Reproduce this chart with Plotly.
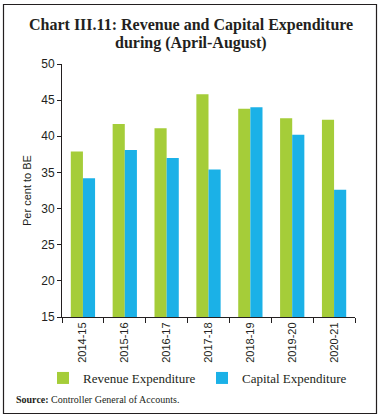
import plotly.graph_objects as go

years = ["2014-15", "2015-16", "2016-17", "2017-18", "2018-19", "2019-20", "2020-21"]
revenue_exp = [37.9, 41.7, 41.1, 45.8, 43.8, 42.5, 42.3]
capital_exp = [34.2, 38.1, 37.0, 35.4, 44.0, 40.2, 32.6]
y_ticks = [15, 20, 25, 30, 35, 40, 45, 50]

GREEN = "#A5CD39"
BLUE = "#1BB1E7"
INK = "#231F20"

fig = go.Figure()
fig.add_trace(go.Bar(x=years, y=revenue_exp, name="Revenue Expenditure", legend="legend",
                     marker=dict(color=GREEN, line=dict(width=0))))
fig.add_trace(go.Bar(x=years, y=capital_exp, name="Capital Expenditure", legend="legend2",
                     marker=dict(color=BLUE, line=dict(width=0))))

W, H = 381, 418
L, R, T, B = 62, 26, 64, 101
pw, ph = W - L - R, H - T - B

def px(xp):
    return (xp - L) / pw

def py(yp):
    return (H - B - yp) / ph

legend_font = dict(family="Liberation Serif", size=13, color=INK)

def legend_at(xpix):
    return dict(orientation="h", xref="container", yref="container",
                x=xpix / W, y=1 - 378 / H, xanchor="left", yanchor="middle",
                bgcolor="rgba(0,0,0,0)", font=legend_font, itemclick=False)

fig.update_layout(
    width=W, height=H,
    margin=dict(l=L, r=R, t=T, b=B, autoexpand=False),
    paper_bgcolor="white", plot_bgcolor="white",
    barmode="group", bargap=0.42, bargroupgap=0,
    showlegend=True,
    legend=legend_at(43),
    legend2=legend_at(202),
    font=dict(family="Liberation Sans", color=INK),
    xaxis=dict(showline=True, linecolor=INK, linewidth=1,
               ticks="outside", ticklen=5, tickcolor=INK, tickson="boundaries",
               tickangle=-90, tickfont=dict(size=11, family="Liberation Sans", color=INK),
               showgrid=False, automargin=False),
    yaxis=dict(range=[15, 50], tickvals=y_ticks, showline=True, linecolor=INK, linewidth=1,
               ticks="outside", ticklen=4, tickcolor=INK,
               tickfont=dict(size=12, family="Liberation Sans", color=INK),
               showgrid=False, zeroline=False, automargin=False,
               title=dict(text="Per cent to BE", font=dict(size=11, family="Liberation Sans", color=INK),
                          standoff=7)),
    shapes=[dict(type="rect", xref="paper", yref="paper",
                 x0=px(3.5), x1=px(376.5), y0=py(413.5), y1=py(4.5),
                 line=dict(color=INK, width=1.2), fillcolor="rgba(0,0,0,0)", layer="below")],
    annotations=[
        dict(text="<b>Chart III.11: Revenue and Capital Expenditure</b>",
             xref="paper", yref="paper", x=px(190.5), y=py(25), xanchor="center", yanchor="middle",
             showarrow=False, font=dict(family="Liberation Serif", size=16, color=INK)),
        dict(text="<b>during (April-August)</b>",
             xref="paper", yref="paper", x=px(190.5), y=py(43), xanchor="center", yanchor="middle",
             showarrow=False, font=dict(family="Liberation Serif", size=16, color=INK)),
        dict(text="<b>Source:</b> Controller General of Accounts.",
             xref="paper", yref="paper", x=px(14), y=py(400), xanchor="left", yanchor="middle",
             showarrow=False, font=dict(family="Liberation Serif", size=10, color=INK)),
    ],
)

fig.write_html("out.html", config={"displayModeBar": False},
               post_script="document.body.style.margin='0';")
